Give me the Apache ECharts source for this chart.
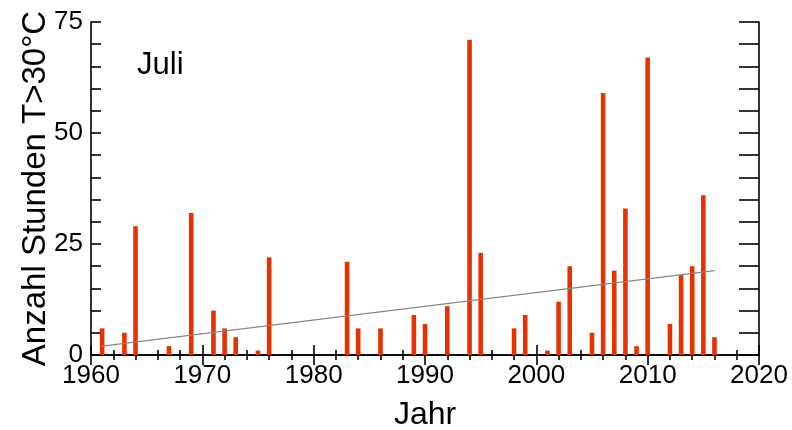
<!DOCTYPE html>
<html>
<head>
<meta charset="utf-8">
<script src="https://cdn.jsdelivr.net/npm/echarts@6/dist/echarts.min.js"></script>
<style>
  html, body { margin: 0; padding: 0; background: #ffffff; }
  #chart { width: 792px; height: 430px; }
</style>
</head>
<body>
<div id="chart"></div>
<script>
// Hours per July with T > 30 °C, by year
const years = [1961, 1963, 1964, 1967, 1969, 1971, 1972, 1973, 1975, 1976,
               1983, 1984, 1986, 1989, 1990, 1992, 1994, 1995, 1998, 1999,
               2001, 2002, 2003, 2005, 2006, 2007, 2008, 2009, 2010, 2012,
               2013, 2014, 2015, 2016];
const hours = [6, 5, 29, 2, 32, 10, 6, 4, 1, 22,
               21, 6, 6, 9, 7, 11, 71, 23, 6, 9,
               1, 12, 20, 5, 59, 19, 33, 2, 67, 7,
               18, 20, 36, 4];

// Linear trend, start and end points
const trendYears = [1961, 2016];
const trendValues = [2.0, 19.0];

const xTicks = [1960, 1970, 1980, 1990, 2000, 2010, 2020];
const yTicks = [0, 25, 50, 75];

const FONT = "'Liberation Sans', Arial, Helvetica, sans-serif";

const chart = echarts.init(document.getElementById('chart'), null, { renderer: 'canvas' });

const axisLine = { show: true, lineStyle: { color: '#000', width: 1.6 } };

chart.setOption({
  animation: false,
  backgroundColor: '#ffffff',
  grid: { left: 91, right: 33, top: 22, bottom: 75, containLabel: false, outerBoundsMode: 'none' },
  xAxis: [
    {
      type: 'value', position: 'bottom',
      min: xTicks[0], max: xTicks[xTicks.length - 1], interval: 10,
      name: 'Jahr', nameLocation: 'middle', nameGap: 44, nameMoveOverlap: false,
      nameTextStyle: { fontFamily: FONT, fontSize: 32, color: '#000' },
      axisLine: axisLine,
      axisTick: { show: true, inside: true, length: 10, lineStyle: { color: '#000', width: 1.6 } },
      minorTick: { show: true, splitNumber: 5, length: 5, lineStyle: { color: '#000', width: 1.6 } },
      axisLabel: { fontFamily: FONT, fontSize: 26, color: '#000', margin: 8,
                   hideOverlap: false, formatter: v => String(v) },
      splitLine: { show: false }
    },
    {
      type: 'value', position: 'top',
      min: xTicks[0], max: xTicks[xTicks.length - 1], interval: 10,
      axisLine: axisLine,
      axisTick: { show: true, inside: true, length: 10, lineStyle: { color: '#000', width: 1.6 } },
      minorTick: { show: true, splitNumber: 5, length: 5, lineStyle: { color: '#000', width: 1.6 } },
      axisLabel: { show: false },
      splitLine: { show: false }
    }
  ],
  yAxis: [
    {
      type: 'value', position: 'left',
      min: yTicks[0], max: yTicks[yTicks.length - 1], interval: 25,
      name: 'Anzahl Stunden T>30°C', nameLocation: 'middle', nameGap: 39, nameRotate: 90,
      nameMoveOverlap: false,
      nameTextStyle: { fontFamily: FONT, fontSize: 33, color: '#000' },
      axisLine: axisLine,
      axisTick: { show: true, inside: true, length: 10, lineStyle: { color: '#000', width: 1.6 } },
      minorTick: { show: true, splitNumber: 5, length: 10, lineStyle: { color: '#000', width: 1.6 } },
      axisLabel: { fontFamily: FONT, fontSize: 26, color: '#000', margin: 8 },
      splitLine: { show: false }
    },
    {
      type: 'value', position: 'right',
      min: yTicks[0], max: yTicks[yTicks.length - 1], interval: 25,
      axisLine: axisLine,
      axisTick: { show: true, inside: true, length: 20, lineStyle: { color: '#000', width: 1.6 } },
      minorTick: { show: true, splitNumber: 5, length: 20, lineStyle: { color: '#000', width: 1.6 } },
      axisLabel: { show: false },
      splitLine: { show: false }
    }
  ],
  graphic: [
    {
      type: 'text', left: 137, top: 50,
      style: { text: 'Juli', fontFamily: FONT, fontSize: 31, fill: '#000' }
    }
  ],
  series: [
    {
      type: 'bar',
      xAxisIndex: 0, yAxisIndex: 0,
      data: years.map((y, i) => [y, hours[i]]),
      barWidth: 4.6,
      itemStyle: { color: '#e63200' },
      z: 2
    },
    {
      type: 'line',
      xAxisIndex: 0, yAxisIndex: 0,
      data: trendYears.map((y, i) => [y, trendValues[i]]),
      symbol: 'none',
      lineStyle: { color: '#888888', width: 1.3 },
      z: 3
    }
  ]
});
</script>
</body>
</html>
